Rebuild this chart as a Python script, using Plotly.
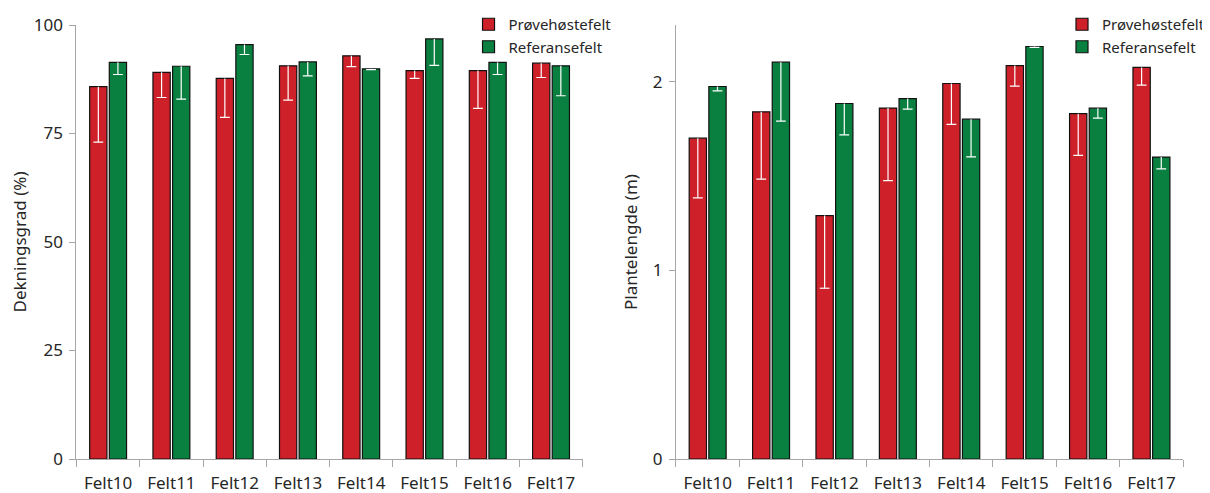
import plotly.graph_objects as go

categories = ["Felt10", "Felt11", "Felt12", "Felt13", "Felt14", "Felt15", "Felt16", "Felt17"]

# Dekningsgrad (%)
cover_prove = [85.8, 89.1, 87.7, 90.6, 92.9, 89.5, 89.5, 91.2]
cover_prove_err = [12.8, 5.8, 9.0, 7.9, 2.5, 1.8, 8.7, 3.3]
cover_ref = [91.4, 90.5, 95.5, 91.5, 89.9, 96.8, 91.4, 90.6]
cover_ref_err = [2.8, 7.6, 2.3, 3.2, 0.2, 6.1, 2.8, 6.9]

# Plantelengde (m)
length_prove = [1.70, 1.84, 1.29, 1.86, 1.99, 2.085, 1.83, 2.075]
length_prove_err = [0.316, 0.357, 0.385, 0.385, 0.217, 0.109, 0.221, 0.094]
length_ref = [1.974, 2.103, 1.884, 1.910, 1.801, 2.186, 1.859, 1.600]
length_ref_err = [0.023, 0.312, 0.166, 0.056, 0.200, 0.005, 0.053, 0.062]

series_names = ["Prøvehøstefelt", "Referansefelt"]
colors = ["#CE2029", "#0A8040"]

FONT = "Noto Sans"
AXIS_COLOR = "#A6A6A6"
TEXT_COLOR = "#262626"

fig = go.Figure()

panels = [
    ("x", "y", "legend", [(cover_prove, cover_prove_err), (cover_ref, cover_ref_err)]),
    ("x2", "y2", "legend2", [(length_prove, length_prove_err), (length_ref, length_ref_err)]),
]

for xa, ya, leg, data in panels:
    for k, (vals, errs) in enumerate(data):
        fig.add_trace(go.Bar(
            x=categories, y=vals, name=series_names[k],
            xaxis=xa, yaxis=ya, legend=leg, offsetgroup=str(k),
            marker=dict(color=colors[k], line=dict(color="#111111", width=1.2)),
            error_y=dict(type="data", symmetric=False, array=[0] * len(vals),
                         arrayminus=errs, color="white", thickness=1.2, width=0),
        ))
    for k, (vals, errs) in enumerate(data):
        fig.add_trace(go.Scatter(
            x=categories, y=[v - e for v, e in zip(vals, errs)],
            xaxis=xa, yaxis=ya, mode="markers", showlegend=False, offsetgroup=str(k),
            hoverinfo="skip",
            marker=dict(symbol="line-ew", size=7, line=dict(color="white", width=1.2)),
        ))

common_x = dict(
    showline=True, linecolor=AXIS_COLOR, linewidth=1.2,
    ticks="outside", tickson="boundaries", ticklen=7, tickcolor=AXIS_COLOR, tickwidth=1.2,
    tickfont=dict(family=FONT, size=17, color=TEXT_COLOR), showgrid=False,
    ticklabelstandoff=8, automargin=False, fixedrange=True,
)
common_y = dict(
    showline=True, linecolor=AXIS_COLOR, linewidth=1.2,
    ticks="outside", ticklen=6, tickcolor=AXIS_COLOR, tickwidth=1.2,
    tickfont=dict(family=FONT, size=17, color=TEXT_COLOR), showgrid=False, zeroline=False,
    ticklabelstandoff=3, automargin=False,
)

W, H = 1202, 485
title_font = dict(family=FONT, size=17, color=TEXT_COLOR)
legend_font = dict(family=FONT, size=15, color=TEXT_COLOR)

fig.update_layout(
    width=W, height=H,
    margin=dict(l=0, r=0, t=0, b=0),
    paper_bgcolor="white", plot_bgcolor="white",
    barmode="group", bargap=0.38, bargroupgap=0.12,
    scattermode="group", scattergap=0.38,
    font=dict(family=FONT, color=TEXT_COLOR),
    xaxis=dict(domain=[69 / W, 579 / W], anchor="y", **common_x),
    xaxis2=dict(domain=[673 / W, 1184 / W], anchor="y2", **common_x),
    yaxis=dict(domain=[34 / H, 1 - 17 / H], anchor="x", range=[0, 100],
               tickvals=[0, 25, 50, 75, 100],
               title=dict(text="Dekningsgrad (%)", font=title_font, standoff=10),
               **common_y),
    yaxis2=dict(domain=[34 / H, 1 - 17 / H], anchor="x2", range=[0, 2.3],
                tickvals=[0, 1, 2],
                title=dict(text="Plantelengde (m)", font=title_font, standoff=10),
                **common_y),
    legend=dict(x=464 / W, y=1, xanchor="left", yanchor="top",
                font=legend_font, bgcolor="rgba(0,0,0,0)", itemwidth=30, tracegroupgap=0),
    legend2=dict(x=1062 / W, y=1, xanchor="left", yanchor="top",
                 font=legend_font, bgcolor="rgba(0,0,0,0)", itemwidth=30, tracegroupgap=0),
)

fig.write_html("out.html")
